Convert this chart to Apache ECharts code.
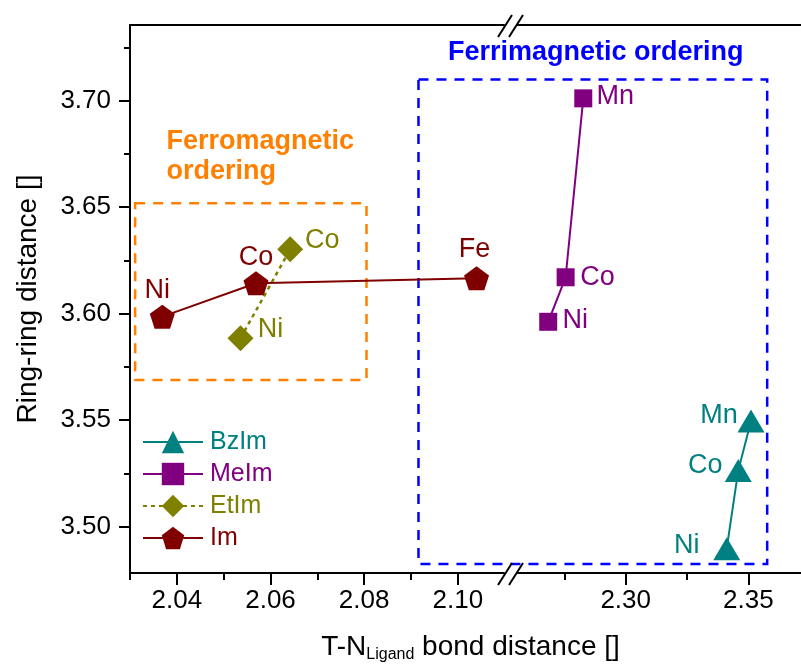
<!DOCTYPE html>
<html>
<head>
<meta charset="utf-8">
<title>Ring-ring distance vs T-N bond distance</title>
<script src="https://cdn.jsdelivr.net/npm/echarts@6.0.0/dist/echarts.min.js"></script>
<style>
  html, body { margin: 0; padding: 0; background: #ffffff; }
  #chart { width: 801px; height: 671px; }
</style>
</head>
<body>
<div id="chart"></div>
<script>
// ---- data ----------------------------------------------------------------
// Im (imidazolate) series: bond distance (Å) vs ring-ring distance (Å)
const imMetals = ['Ni', 'Co', 'Fe'];
const imBond = [2.0369, 2.0569, 2.1040];
const imRing = [3.5986, 3.6143, 3.6166];

const etImMetals = ['Ni', 'Co'];
const etImBond = [2.0536, 2.0642];
const etImRing = [3.5885, 3.6302];

const meImMetals = ['Ni', 'Co', 'Mn'];
const meImBond = [2.2684, 2.2755, 2.2827];
const meImRing = [3.5962, 3.6171, 3.7011];

const bzImMetals = ['Ni', 'Co', 'Mn'];
const bzImBond = [2.3412, 2.3459, 2.3511];
const bzImRing = [3.4897, 3.5264, 3.5496];

// axis extents (broken x axis: two segments)
const xLeftRange = [2.03, 2.10986];
const xRightRange = [2.25567, 2.37149];
const yRange = [3.47826, 3.73554];

// tick values
const xLeftMajor = [2.04, 2.06, 2.08, 2.10];
const xLeftMinor = [2.03, 2.05, 2.07, 2.09];
const xRightMajor = [2.30, 2.35];
const xRightMinor = [2.275, 2.325];
const yMajor = [3.50, 3.55, 3.60, 3.65, 3.70];
const yMinor = [3.525, 3.575, 3.625, 3.675, 3.725];

// annotation regions, in data units: [xStart, xEnd, yTop, yBottom]
const ferroBox = [2.0311, 2.0805, 3.6518, 3.5689];
const ferriBox = [2.0916, 2.3577, 3.7100, 3.4825]; // xStart on left segment, xEnd on right segment

// ---- styling -------------------------------------------------------------
const FONT = '"Liberation Sans", Arial, Helvetica, sans-serif';
const C_IM = '#800000', C_ET = '#808000', C_ME = '#800080', C_BZ = '#008080';
const C_FERRO = '#FF8000', C_FERRI = '#0000FF';

// point-label shifts (px, relative to the marker centre)
const imShift = [[-5, -26], [0, -26], [-2, -29]];
const etImShift = [[30, -9], [32, -9]];
const meImShift = [[27, -1], [32, 0], [32, -2]];
const bzImShift = [[-40, -3], [-33, -5], [-32, -6]];

const PENTAGON = 'path://M0,-1 L0.951,-0.309 L0.588,0.809 L-0.588,0.809 L-0.951,-0.309 Z';

function points(metals, xs, ys, shifts) {
  return metals.map((m, i) => ({
    name: m,
    value: [xs[i], ys[i]],
    label: { offset: shifts[i] }
  }));
}

function pointLabel(color) {
  return {
    show: true, position: 'inside', formatter: '{b}',
    color: color, fontSize: 27, fontFamily: FONT
  };
}

const axisLineStyle = { show: true, lineStyle: { color: '#000', width: 2 } };

function xMajor(gridIndex, range, ticks) {
  return {
    type: 'value', gridIndex, position: 'bottom', min: range[0], max: range[1],
    axisLine: axisLineStyle,
    axisTick: { show: true, length: 12, lineStyle: { color: '#000', width: 2 }, customValues: ticks },
    axisLabel: { show: true, customValues: ticks, margin: 15, color: '#000', fontSize: 26, fontFamily: FONT,
                 formatter: v => v.toFixed(2) },
    splitLine: { show: false }
  };
}
function xMinor(gridIndex, range, ticks) {
  return {
    type: 'value', gridIndex, position: 'bottom', min: range[0], max: range[1],
    axisLine: { show: false },
    axisTick: { show: true, length: 7, lineStyle: { color: '#000', width: 2 }, customValues: ticks },
    axisLabel: { show: false }, splitLine: { show: false }
  };
}
function xTop(gridIndex, range) {
  return {
    type: 'value', gridIndex, position: 'top', min: range[0], max: range[1],
    axisLine: axisLineStyle, axisTick: { show: false }, axisLabel: { show: false }, splitLine: { show: false }
  };
}

const chart = echarts.init(document.getElementById('chart'), null, { renderer: 'canvas' });

chart.setOption({
  animation: false,
  backgroundColor: '#ffffff',
  grid: [
    { left: 130, top: 25, width: 374, height: 548 },
    { left: 517, top: 25, right: 0, height: 548 }
  ],
  xAxis: [
    xMajor(0, xLeftRange, xLeftMajor),
    xMinor(0, xLeftRange, xLeftMinor),
    xTop(0, xLeftRange),
    xMajor(1, xRightRange, xRightMajor),
    xMinor(1, xRightRange, xRightMinor),
    xTop(1, xRightRange)
  ],
  yAxis: [
    {
      type: 'value', gridIndex: 0, position: 'left', min: yRange[0], max: yRange[1],
      axisLine: axisLineStyle,
      axisTick: { show: true, length: 11, lineStyle: { color: '#000', width: 2 }, customValues: yMajor },
      axisLabel: { show: true, customValues: yMajor, margin: 19, color: '#000', fontSize: 26, fontFamily: FONT,
                   formatter: v => v.toFixed(2) },
      splitLine: { show: false },
      name: 'Ring-ring distance []', nameLocation: 'middle', nameGap: 88,
      nameTextStyle: { color: '#000', fontSize: 28, fontFamily: FONT }
    },
    {
      type: 'value', gridIndex: 0, position: 'left', min: yRange[0], max: yRange[1],
      axisLine: { show: false },
      axisTick: { show: true, length: 6, lineStyle: { color: '#000', width: 2 }, customValues: yMinor },
      axisLabel: { show: false }, splitLine: { show: false }
    },
    {
      type: 'value', gridIndex: 1, min: yRange[0], max: yRange[1], show: false
    }
  ],
  legend: {
    orient: 'vertical', left: 137, top: 423,
    itemWidth: 60, itemHeight: 28, itemGap: 4,
    textStyle: { fontSize: 25, fontFamily: FONT, lineHeight: 28, padding: [0, 0, 0, 2] },
    data: [
      { name: 'BzIm', textStyle: { color: C_BZ } },
      { name: 'MeIm', textStyle: { color: C_ME } },
      { name: 'EtIm', textStyle: { color: C_ET } },
      { name: 'Im', textStyle: { color: C_IM } }
    ],
    selectedMode: false
  },
  series: [
    {
      name: 'BzIm', type: 'line', xAxisIndex: 3, yAxisIndex: 2,
      data: points(bzImMetals, bzImBond, bzImRing, bzImShift),
      symbol: 'triangle', symbolSize: [27, 23],
      itemStyle: { color: C_BZ }, lineStyle: { color: C_BZ, width: 2 },
      label: pointLabel(C_BZ), z: 3
    },
    {
      name: 'MeIm', type: 'line', xAxisIndex: 3, yAxisIndex: 2,
      data: points(meImMetals, meImBond, meImRing, meImShift),
      symbol: 'rect', symbolSize: 18,
      itemStyle: { color: C_ME }, lineStyle: { color: C_ME, width: 2 },
      label: pointLabel(C_ME), z: 3
    },
    {
      name: 'EtIm', type: 'line', xAxisIndex: 0, yAxisIndex: 0,
      data: points(etImMetals, etImBond, etImRing, etImShift),
      symbol: 'diamond', symbolSize: [26, 26],
      itemStyle: { color: C_ET }, lineStyle: { color: C_ET, width: 2.5, type: [4, 4] },
      label: pointLabel(C_ET), z: 3
    },
    {
      name: 'Im', type: 'line', xAxisIndex: 0, yAxisIndex: 0,
      data: points(imMetals, imBond, imRing, imShift),
      symbol: PENTAGON, symbolSize: [25, 24],
      itemStyle: { color: C_IM }, lineStyle: { color: C_IM, width: 2 },
      label: pointLabel(C_IM), z: 4
    }
  ]
});

// ---- decorations: ordering boxes, their captions, axis-break marks, x title
const L = { xAxisIndex: 0, yAxisIndex: 0 };
const R = { xAxisIndex: 3, yAxisIndex: 2 };
const px = (finder, x, y) => chart.convertToPixel(finder, [x, y]);

const fA = px(L, ferroBox[0], ferroBox[2]);
const fB = px(L, ferroBox[1], ferroBox[3]);
const bA = px(L, ferriBox[0], ferriBox[2]);
const bB = px(R, ferriBox[1], ferriBox[3]);
const ferroCap = px(L, 2.0378, 3.6740);
const ferriCap = px(L, 2.0979, 3.7226);

const breakL = px(L, xLeftRange[1], yRange[1]);   // left segment end, top
const breakR = px(R, xRightRange[0], yRange[0]);  // right segment start, bottom
const topY = breakL[1], botY = breakR[1];
const s1 = breakL[0] + 1, s2 = breakR[0] - 1;

function slash(cx, cy) {
  return {
    type: 'line', silent: true, z: 10,
    shape: { x1: cx - 7, y1: cy + 11, x2: cx + 7, y2: cy - 11 },
    style: { stroke: '#000', lineWidth: 2 }
  };
}
const dashed = (a, b, color) => ({
  type: 'rect', silent: true, z: 1,
  shape: { x: a[0], y: a[1], width: b[0] - a[0], height: b[1] - a[1] },
  style: { fill: 'none', stroke: color, lineWidth: 2.5, lineDash: [10, 8] }
});

const midX = (chart.convertToPixel({ xAxisIndex: 0 }, xLeftRange[0]) + 801) / 2 + 5;

chart.setOption({
  graphic: [
    dashed(fA, fB, C_FERRO),
    dashed(bA, bB, C_FERRI),
    {
      type: 'text', silent: true, z: 5,
      style: {
        x: ferroCap[0], y: ferroCap[1], text: 'Ferromagnetic\nordering',
        fill: C_FERRO, font: 'bold 27px ' + FONT, lineHeight: 30,
        align: 'left', verticalAlign: 'middle'
      }
    },
    {
      type: 'text', silent: true, z: 5,
      style: {
        x: ferriCap[0], y: ferriCap[1], text: 'Ferrimagnetic ordering',
        fill: C_FERRI, font: 'bold 27px ' + FONT,
        align: 'left', verticalAlign: 'middle'
      }
    },
    slash(s1, topY + 1), slash(s2, topY + 1),
    slash(s1, botY + 1), slash(s2, botY + 1),
    {
      type: 'text', silent: true, z: 5,
      style: {
        x: midX, y: 647, align: 'center', verticalAlign: 'middle',
        text: '{a|T-N}{b|Ligand}{a| bond distance []}',
        rich: {
          a: { fontSize: 28, fontFamily: FONT, fill: '#000', lineHeight: 32 },
          b: { fontSize: 16, fontFamily: FONT, fill: '#000', lineHeight: 12, verticalAlign: 'bottom' }
        }
      }
    }
  ]
});
</script>
</body>
</html>
